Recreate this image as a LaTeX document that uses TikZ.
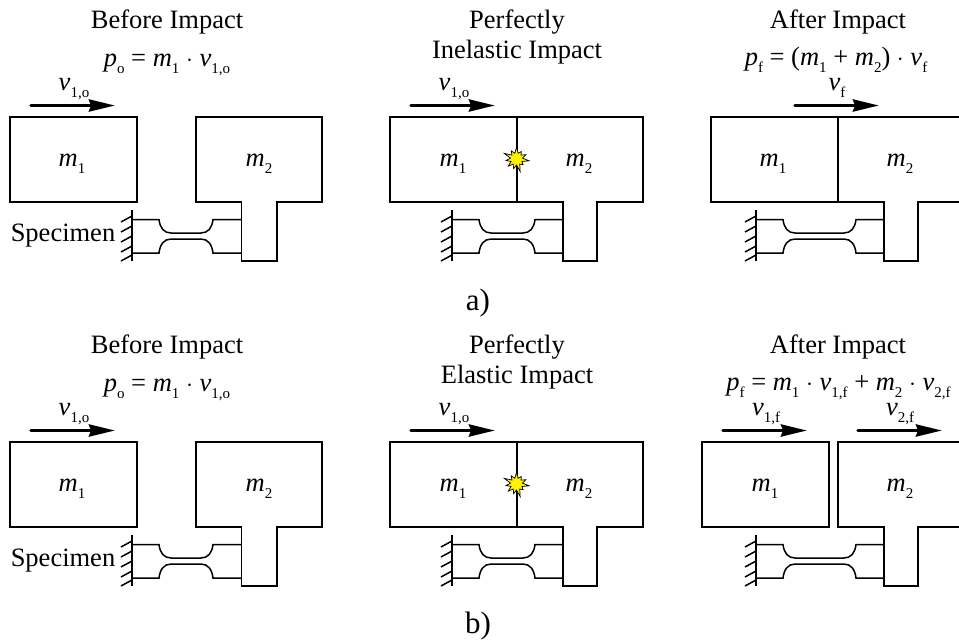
\documentclass[tikz,border=0pt]{standalone}
\usepackage{fontspec}
\setmainfont{Liberation Serif}
\usetikzlibrary{arrows.meta,shapes.symbols}

\newcommand{\symb}[2]{{\itshape #1}\raisebox{-0.27em}{\fontsize{15}{15}\selectfont #2}}
\newcommand{\bodyone}[2]{\draw (#1,117) rectangle (#2,202);}
\newcommand{\bodytwo}[4]{\draw (#1,117) -- (#2,117) -- (#2,202) -- (#4,202) -- (#4,261) -- (#3,261) -- (#3,202) -- (#1,202) -- cycle;}
\newcommand{\specimen}[4]{
  \draw (#1,210) -- (#1,261);
  \foreach \yy in {216,226,236,246,255}
    \draw (#1,\yy) -- (#1-11,\yy+6);
  \draw (#1,219.5) -- (#2,219.5) .. controls (#2+1,228) and (#2+5,233) .. (#2+12,233) -- (#3-12,233) .. controls (#3-5,233) and (#3-1,228) .. (#3,219.5) -- (#4,219.5);
  \draw (#1,253) -- (#2,253) .. controls (#2+1,244.5) and (#2+5,239) .. (#2+12,239) -- (#3-12,239) .. controls (#3-5,239) and (#3-1,244.5) .. (#3,253) -- (#4,253);
}
\newcommand{\velocity}[4]{
  \coordinate (#1s) at (#2,105.5);
  \coordinate (#1e) at (#2+84,105.5);
  \draw[veloarrow] (#1s) -- (#1e);
  \node[lab] (#1l) at (#2+#3,90.5) {\symb{v}{#4}};
}

\tikzset{
  lab/.style={anchor=base,inner sep=0pt,font=\fontsize{26.5}{30}\selectfont},
  partlab/.style={lab,font=\fontsize{31}{35}\selectfont},
  veloarrow/.style={line width=3.4pt,line cap=round,-{Stealth[length=26pt,width=12pt,inset=2pt]}},
  burst/.style={starburst,draw,fill=yellow,line width=0.7pt,inner sep=0pt,minimum width=28pt,minimum height=28pt,starburst points=11,starburst point height=8pt}
}

\begin{document}
\begin{tikzpicture}[x=1pt,y=-1pt,line width=1.5pt]
  \useasboundingbox (0,0) rectangle (959,640);

  % a) inelastic
  \node[lab] (titleAa) at (167,28) {Before Impact};
  \node[lab] (momAa) at (167,66) {\symb{p}{o} = \symb{m}{1} $\cdot$ \symb{v}{1,o}};
  \velocity{veloAa}{31}{43}{1,o}
  \bodyone{10}{137}
  \bodytwo{196}{322}{241.5}{277}
  \specimen{132}{159}{213}{241.5}
  \node[lab] (massAa) at (72,166.5) {\symb{m}{1}};
  \node[lab] (massAb) at (259,166.5) {\symb{m}{2}};
  \node[lab] (spec) at (63,241.5) {Specimen};

  \node[lab] (titleBa) at (517,28) {Perfectly};
  \node[lab] (titleBb) at (517,58) {Inelastic Impact};
  \velocity{veloB}{411}{43}{1,o}
  \bodyone{390}{517}
  \bodytwo{517}{643}{563}{597}
  \specimen{452}{479}{535}{563}
  \node[lab] (massBa) at (453,166.5) {\symb{m}{1}};
  \node[lab] (massBb) at (579,166.5) {\symb{m}{2}};
  \node[burst] (impactA) at (516.5,159) {};

  \node[lab] (titleCa) at (838,28) {After Impact};
  \node[lab] (momC) at (836,65) {\symb{p}{f} = (\symb{m}{1} + \symb{m}{2}) $\cdot$ \symb{v}{f}};
  \velocity{veloC}{795}{42}{f}
  \bodyone{711}{838}
  \bodytwo{838}{965}{884}{918}
  \specimen{756}{783}{856}{884}
  \node[lab] (massCa) at (773,166.5) {\symb{m}{1}};
  \node[lab] (massCb) at (900,166.5) {\symb{m}{2}};

  \node[partlab] (labA) at (478,310) {a)};

  % b) elastic
  \begin{scope}[yshift=-325pt]
    \node[lab] (titleDa) at (167,28) {Before Impact};
    \node[lab] (momD) at (167,66) {\symb{p}{o} = \symb{m}{1} $\cdot$ \symb{v}{1,o}};
    \velocity{veloD}{31}{43}{1,o}
    \bodyone{10}{137}
    \bodytwo{196}{322}{241.5}{277}
    \specimen{132}{159}{213}{241.5}
    \node[lab] (massDa) at (72,166.5) {\symb{m}{1}};
    \node[lab] (massDb) at (259,166.5) {\symb{m}{2}};
    \node[lab] (specB) at (63,241.5) {Specimen};

    \node[lab] (titleEa) at (517,28) {Perfectly};
    \node[lab] (titleEb) at (517,58) {Elastic Impact};
    \velocity{veloE}{411}{43}{1,o}
    \bodyone{390}{517}
    \bodytwo{517}{643}{563}{597}
    \specimen{452}{479}{535}{563}
    \node[lab] (massEa) at (453,166.5) {\symb{m}{1}};
    \node[lab] (massEb) at (579,166.5) {\symb{m}{2}};
    \node[burst] (impactB) at (516.5,159) {};

    \node[lab] (titleFa) at (838,28) {After Impact};
    \node[lab] (momF) at (838.5,65) {\symb{p}{f} = \symb{m}{1} $\cdot$ \symb{v}{1,f} + \symb{m}{2} $\cdot$ \symb{v}{2,f}};
    \velocity{veloFa}{723}{43}{1,f}
    \velocity{veloFb}{858}{42}{2,f}
    \bodyone{702}{829}
    \bodytwo{838}{965}{884}{918}
    \specimen{756}{783}{856}{884}
    \node[lab] (massFa) at (765,166.5) {\symb{m}{1}};
    \node[lab] (massFb) at (900,166.5) {\symb{m}{2}};

    \node[partlab] (labB) at (478,308) {b)};
  \end{scope}
\end{tikzpicture}
\end{document}
